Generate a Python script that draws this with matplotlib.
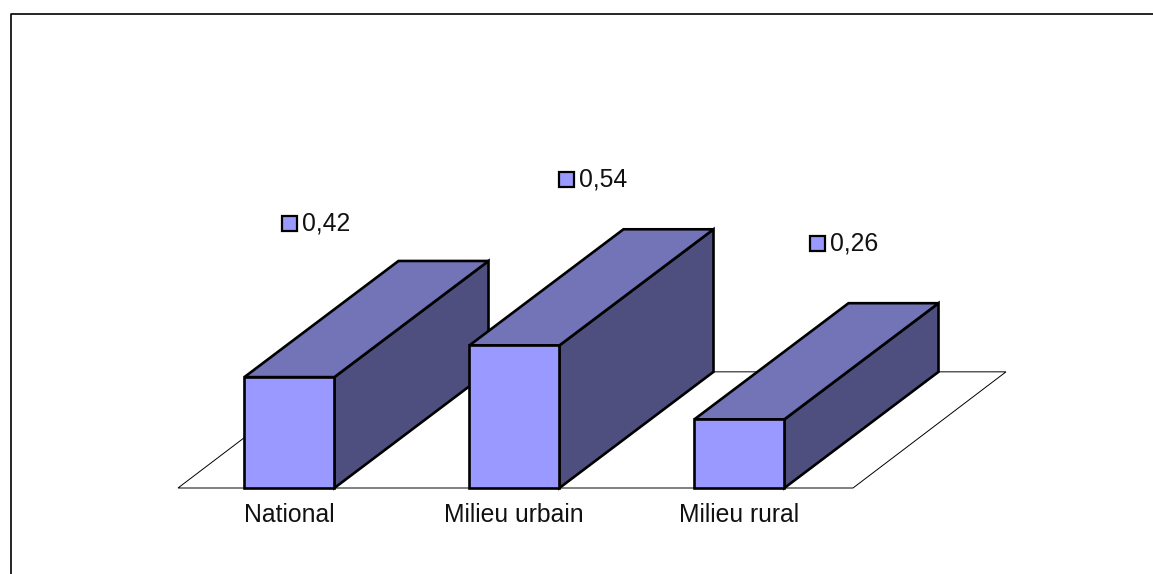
import matplotlib
matplotlib.use("Agg")
import matplotlib.pyplot as plt
from matplotlib.patches import Polygon, Rectangle

categories = ["National", "Milieu urbain", "Milieu rural"]
values = [0.42, 0.54, 0.26]
value_labels = ["0,42", "0,54", "0,26"]

W, H = 1153, 574
FRONT = "#9999ff"
TOP = "#7373b8"
SIDE = "#4f4f7f"
BAR_WIDTH = 0.40
BAR_SHIFT = -0.005
DEPTH_X, DEPTH_Y = 0.68, 0.44
BAR_DEPTH_X = 0.685

plt.rcParams["font.family"] = ["Liberation Sans", "DejaVu Sans"]
fig = plt.figure(figsize=(W / 100, H / 100), dpi=100, facecolor="white")

# Axes span the floor's front edge; one category = 225 px, one unit of value = 264 px.
left, right, base = 178, 853, 488
ax = fig.add_axes([left / W, (H - base) / H, (right - left) / W, 264 * 0.6 / H])
ax.set_xlim(-0.5, 2.5)
ax.set_ylim(0, 0.6)
ax.axis("off")

# Floor of the 3D box
floor = Polygon(
    [(-0.5, 0), (2.5, 0), (2.5 + DEPTH_X, DEPTH_Y), (-0.5 + DEPTH_X, DEPTH_Y)],
    closed=True, facecolor="white", edgecolor="black", linewidth=0.7,
    clip_on=False, zorder=1,
)
ax.add_patch(floor)

# Each bar: side and top faces are the front face sheared along the depth direction
for i, v in enumerate(values):
    x0, x1 = i + BAR_SHIFT - BAR_WIDTH / 2, i + BAR_SHIFT + BAR_WIDTH / 2
    faces = [
        ([(x1, 0), (x1 + BAR_DEPTH_X, DEPTH_Y), (x1 + BAR_DEPTH_X, v + DEPTH_Y), (x1, v)], SIDE),
        ([(x0, v), (x1, v), (x1 + BAR_DEPTH_X, v + DEPTH_Y), (x0 + BAR_DEPTH_X, v + DEPTH_Y)], TOP),
        ([(x0, 0), (x1, 0), (x1, v), (x0, v)], FRONT),
    ]
    for pts, colour in faces:
        ax.add_patch(Polygon(pts, closed=True, facecolor=colour, edgecolor="black",
                             linewidth=1.9, joinstyle="miter", clip_on=False,
                             zorder=2 + i))
    ax.annotate(categories[i], (i, 0), xytext=(-1.5, -26.5), textcoords="offset pixels",
                ha="center", va="center", fontsize=17.8, color="#111111",
                annotation_clip=False, zorder=10)

# Value labels with their small key squares, placed in figure pixels
label_anchor_px = [(289.5, 223.5), (566, 179), (817.5, 243)]
for (px, py), text in zip(label_anchor_px, value_labels):
    fig.add_artist(Rectangle(((px - 7.5) / W, (H - py - 7.5) / H), 15 / W, 15 / H,
                             transform=fig.transFigure, facecolor=FRONT,
                             edgecolor="black", linewidth=1.6))
    fig.text((px + 12.5) / W, (H - py - 0.5) / H, text, ha="left", va="center",
             fontsize=17.8, color="#111111")

# Outer chart frame: left and top edges only
frame_x = [11 / W, 11 / W, 1.0]
frame_y = [0, (H - 13.5) / H, (H - 13.5) / H]
fig.add_artist(plt.Line2D(frame_x, frame_y, color="black", linewidth=1.2,
                          transform=fig.transFigure))

fig.savefig("out.png", dpi=100, facecolor="white")
